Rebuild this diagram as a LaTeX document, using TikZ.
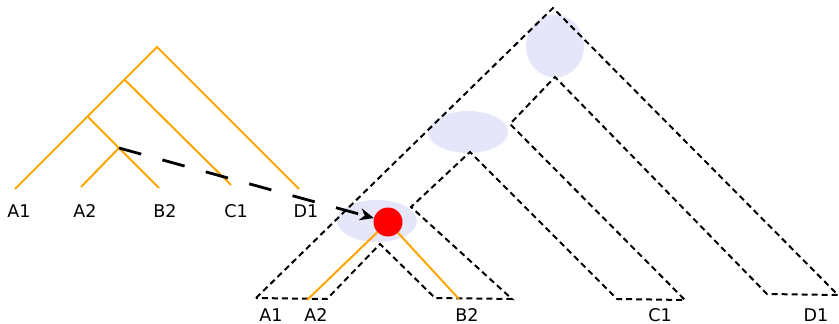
\documentclass[tikz,border=0pt]{standalone}
\usepackage{fontspec}
\setmainfont{DejaVu Sans}
\usepackage{xcolor}
\usepackage{tikz}
\usetikzlibrary{
  shapes.geometric,
  arrows.meta,
  positioning
}
\definecolor{GeneOrange}{RGB}{255, 165, 0}
\definecolor{Lavender}{RGB}{230, 230, 250}
\definecolor{EventRed}{RGB}{255, 0, 0}
\tikzset{
    genebranch/.style={draw=GeneOrange, line width=2pt},
    tube/.style={draw=black, line width=2pt, dash pattern=on 6pt off 4pt, line join=miter},
    leaflabel/.style={font=\fontsize{17.5}{19}\selectfont, text=black, inner sep=0pt},
    mapblob/.style={ellipse, fill=Lavender, draw=none, inner sep=0pt},
    transfer/.style={draw=black, line width=2.8pt, dash pattern=on 23pt off 22pt, -{Stealth[length=14pt,width=12pt]}}
}

\begin{document}
\begin{tikzpicture}[x=1pt, y=-1pt]
            \useasboundingbox (0,0) rectangle (839,324);

            % gene tree
            \coordinate (g-root) at (157,47);
            \coordinate (g-abc) at (125,80);
            \coordinate (g-ab) at (88,117);
            \coordinate (g-a2b2) at (119,148);
            \coordinate (g-a1) at (15,189);
            \coordinate (g-a2) at (81,187);
            \coordinate (g-b2) at (159,188);
            \coordinate (g-c1) at (231,185);
            \coordinate (g-d1) at (299,189);
            \draw[genebranch] (g-a1) -- (g-root) -- (g-d1);
            \draw[genebranch] (g-abc) -- (g-c1);
            \draw[genebranch] (g-ab) -- (g-b2);
            \draw[genebranch] (g-a2b2) -- (g-a2);
            \node[leaflabel] (lbl-a1) at (19,211.5) {A1};
            \node[leaflabel] (lbl-a2) at (85,211.5) {A2};
            \node[leaflabel] (lbl-b2) at (165,211.5) {B2};
            \node[leaflabel] (lbl-c1) at (236,211.5) {C1};
            \node[leaflabel] (lbl-d1) at (306,211.5) {D1};

            % species tree with mapped nodes
            \node[mapblob, minimum width=58pt, minimum height=63pt] (blob-root) at (555,46) {};
            \node[mapblob, minimum width=80pt, minimum height=42pt] (blob-abc) at (468,132) {};
            \node[mapblob, minimum width=80pt, minimum height=42pt] (blob-ab) at (377,221) {};

            \coordinate (s-a-l) at (256,298);
            \coordinate (s-top) at (553,8);
            \coordinate (s-d-r) at (838,295);
            \coordinate (s-d-l) at (767,294);
            \coordinate (s-cd) at (555,77);
            \coordinate (s-cd-in) at (510,124);
            \coordinate (s-c-r) at (685,300);
            \coordinate (s-c-l) at (617,299);
            \coordinate (s-bc) at (470,152);
            \coordinate (s-bc-in) at (411,207);
            \coordinate (s-b-r) at (512,299);
            \coordinate (s-b-l) at (435,298);
            \coordinate (s-ab) at (380,244);
            \coordinate (s-a-r) at (327,299);
            \draw[tube] (s-a-l) -- (s-top) -- (s-d-r) -- (s-d-l) -- (s-cd) -- (s-cd-in)
              -- (s-c-r) -- (s-c-l) -- (s-bc) -- (s-bc-in) -- (s-b-r) -- (s-b-l)
              -- (s-ab) -- (s-a-r) -- cycle;

            \coordinate (m-a2) at (307,300);
            \coordinate (m-b2) at (459,299);
            \node[circle, fill=EventRed, inner sep=0pt, minimum size=29pt] (event) at (388,222) {};
            \draw[genebranch] (event) -- (m-a2);
            \draw[genebranch] (event) -- (m-b2);

            \node[leaflabel] (sp-a1) at (271,315.5) {A1};
            \node[leaflabel] (sp-a2) at (316,315.5) {A2};
            \node[leaflabel] (sp-b2) at (467,315.5) {B2};
            \node[leaflabel] (sp-c1) at (660,315.5) {C1};
            \node[leaflabel] (sp-d1) at (816,315.5) {D1};

            % transfer
            \draw[transfer] (g-a2b2) -- (event);
        \end{tikzpicture}
\end{document}
